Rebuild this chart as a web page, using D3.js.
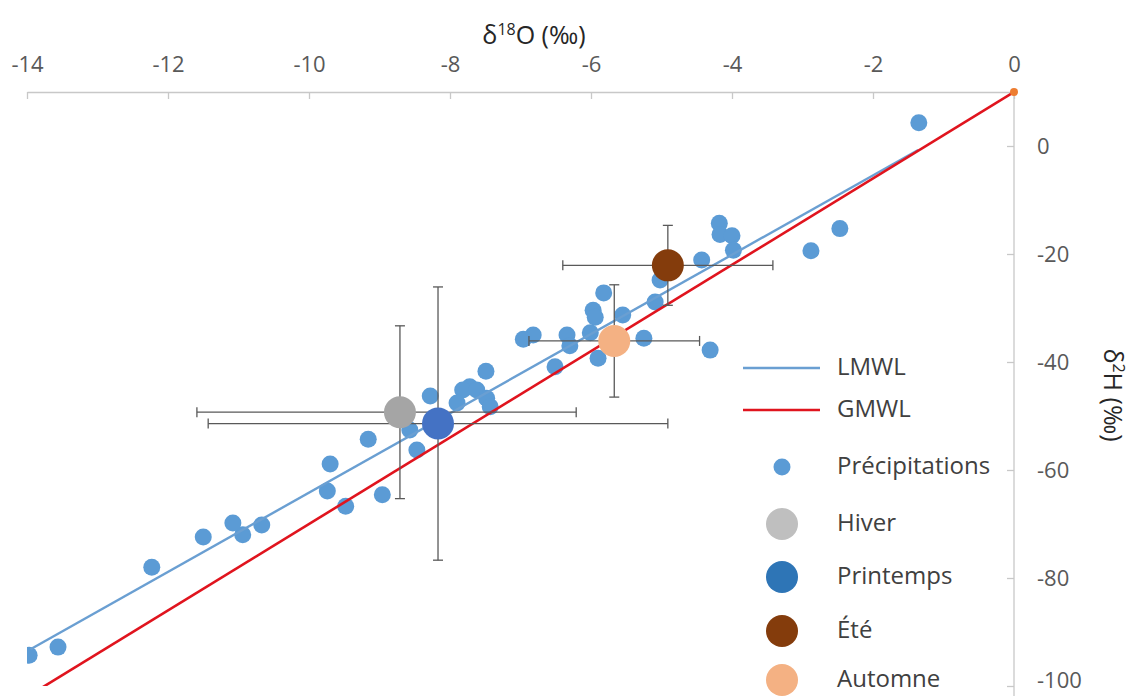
<!DOCTYPE html>
<html><head><meta charset="utf-8">
<script src="https://cdn.jsdelivr.net/npm/d3@7"></script>
<style>body{margin:0;background:#fff;} svg{display:block;font-family:"Open Sans",sans-serif;}</style>
</head><body><svg id="c" width="1131" height="696"></svg>
<script>
// ---- data ----
const xTickValues = [-14, -12, -10, -8, -6, -4, -2, 0];
const yTickValues = [0, -20, -40, -60, -80, -100];

const precipX = [-1.35, -2.47, -2.88, -4.18, -4.17, -4.00, -3.98, -4.43, -4.31, -5.02, -5.09, -5.55,
  -5.82, -5.97, -5.94, -6.01, -6.34, -6.30, -6.82, -6.96, -6.51, -5.90, -5.25, -7.49, -8.28, -7.72,
  -7.82, -7.62, -7.90, -7.48, -7.43, -8.57, -8.47, -9.16, -9.70, -9.74, -9.48, -8.96, -10.67, -10.94,
  -11.08, -11.50, -12.23, -13.97, -13.56];
const precipY = [4.3, -15.3, -19.4, -14.3, -16.4, -16.6, -19.3, -21.1, -37.8, -24.8, -28.9, -31.3,
  -27.2, -30.4, -31.7, -34.6, -35.0, -37.0, -35.0, -35.8, -40.9, -39.3, -35.6, -41.7, -46.3, -44.6,
  -45.2, -45.2, -47.6, -46.7, -48.3, -52.6, -56.3, -54.3, -58.9, -63.9, -66.7, -64.6, -70.2, -72.0,
  -69.8, -72.4, -78.0, -94.3, -92.8];

const seasonNames = ["Hiver", "Printemps", "Été", "Automne"];
const seasonX = [-8.71, -8.17, -4.91, -5.67];
const seasonY = [-49.3, -51.4, -22.1, -36.1];
const seasonXErrMinus = [2.88, 3.26, 1.49, 1.21];
const seasonXErrPlus = [2.5, 3.26, 1.49, 1.21];
const seasonYErr = [16.0, 25.3, 7.4, 10.4];

const lmwlX = [-13.95, -1.36];
const lmwlY = [-93.2, -0.75];
const gmwlX = [-14, 0];
const gmwlY = [-102, 10];

// ---- styles ----
const cPrecip = "#5b9bd5";
const seasonFill = ["#a5a5a5", "#4472c4", "#843c0c", "#f4b183"];
const seasonLegendFill = ["#bfbfbf", "#2e75b6", "#843c0c", "#f4b183"];
const cLMWL = "#6a9fd2", cGMWL = "#e0141e";

const svg = d3.select("#c");
const x = d3.scaleLinear().domain([-14, 0]).range([27, 1014]);
const y = d3.scaleLinear().domain([-100, 10]).range([686, 92]);

svg.append("defs").append("clipPath").attr("id", "plot")
  .append("rect").attr("x", 27).attr("y", 92).attr("width", 987).attr("height", 594);

// x axis (top, crossing at y=10)
const xAxis = svg.append("g").attr("transform", `translate(0,${y(10)})`)
  .call(d3.axisTop(x).tickValues(xTickValues).tickSizeInner(-7).tickSizeOuter(0).tickPadding(20).tickFormat(d3.format("d")));
xAxis.select(".domain").attr("stroke", "#c8c8c8").attr("stroke-width", 1.3);
xAxis.selectAll(".tick line").attr("stroke", "#c8c8c8").attr("stroke-width", 1.3);
xAxis.selectAll(".tick text").attr("fill", "#595959").attr("font-size", 22).attr("font-family", "Open Sans")
  .text(d => String(d));

// y axis (right, crossing at x=0)
const yAxis = svg.append("g").attr("transform", `translate(${x(0)},0)`)
  .call(d3.axisRight(y).tickValues(yTickValues).tickSizeInner(-7).tickSizeOuter(0).tickPadding(23));
yAxis.select(".domain").remove();
yAxis.append("line").attr("x1", 0).attr("x2", 0).attr("y1", y(10)).attr("y2", 696)
  .attr("stroke", "#c8c8c8").attr("stroke-width", 1.3);
yAxis.selectAll(".tick line").attr("stroke", "#c8c8c8").attr("stroke-width", 1.3);
yAxis.selectAll(".tick text").attr("fill", "#595959").attr("font-size", 22).attr("font-family", "Open Sans")
  .text(d => String(d))
  .attr("dy", d => d === -100 ? "0.08em" : "0.32em");

// titles
const xt = svg.append("text").attr("x", 534).attr("y", 44).attr("text-anchor", "middle")
  .attr("font-size", 25).attr("fill", "#262626");
xt.append("tspan").text("δ");
xt.append("tspan").attr("font-size", 16).attr("dy", -9).text("18");
xt.append("tspan").attr("dy", 9).text("O (‰)");

const yt = svg.append("text").attr("transform", "translate(1104,395) rotate(90)")
  .attr("text-anchor", "middle").attr("font-size", 25).attr("fill", "#262626");
yt.append("tspan").text("δ");
yt.append("tspan").attr("font-size", 16).attr("dy", -9).text("2");
yt.append("tspan").attr("dy", 9).text("H (‰)");

// precipitation points
const plot = svg.append("g").attr("clip-path", "url(#plot)");
plot.selectAll("circle.p").data(precipX.map((d, i) => [d, precipY[i]])).join("circle")
  .attr("class", "p").attr("cx", d => x(d[0])).attr("cy", d => y(d[1])).attr("r", 8.5)
  .attr("fill", cPrecip);

// lines
const line = d3.line().x(d => x(d[0])).y(d => y(d[1]));
plot.append("path").datum(lmwlX.map((d, i) => [d, lmwlY[i]])).attr("d", line)
  .attr("stroke", cLMWL).attr("stroke-width", 2.4).attr("fill", "none");
plot.append("path").datum(gmwlX.map((d, i) => [d, gmwlY[i]])).attr("d", line)
  .attr("stroke", cGMWL).attr("stroke-width", 2.6).attr("fill", "none");
svg.append("circle").attr("cx", x(gmwlX[1])).attr("cy", y(gmwlY[1])).attr("r", 4).attr("fill", "#ed7d31");

// error bars
const eb = svg.append("g").attr("stroke", "#595959").attr("stroke-width", 1.3);
const cap = 5;
seasonNames.forEach((n, i) => {
  const cx = x(seasonX[i]), cy = y(seasonY[i]);
  const x0 = x(seasonX[i] - seasonXErrMinus[i]), x1 = x(seasonX[i] + seasonXErrPlus[i]);
  const y0 = y(seasonY[i] + seasonYErr[i]), y1 = y(seasonY[i] - seasonYErr[i]);
  eb.append("line").attr("x1", x0).attr("x2", x1).attr("y1", cy).attr("y2", cy);
  eb.append("line").attr("x1", x0).attr("x2", x0).attr("y1", cy - cap).attr("y2", cy + cap);
  eb.append("line").attr("x1", x1).attr("x2", x1).attr("y1", cy - cap).attr("y2", cy + cap);
  eb.append("line").attr("x1", cx).attr("x2", cx).attr("y1", y0).attr("y2", y1);
  eb.append("line").attr("x1", cx - cap).attr("x2", cx + cap).attr("y1", y0).attr("y2", y0);
  eb.append("line").attr("x1", cx - cap).attr("x2", cx + cap).attr("y1", y1).attr("y2", y1);
});
svg.append("g").selectAll("circle").data(seasonNames).join("circle")
  .attr("cx", (d, i) => x(seasonX[i])).attr("cy", (d, i) => y(seasonY[i])).attr("r", 16)
  .attr("fill", (d, i) => seasonFill[i]);

// legend
const legendItems = [
  { name: "LMWL", kind: "line", color: cLMWL, ry: 368 },
  { name: "GMWL", kind: "line", color: cGMWL, ry: 410 },
  { name: "Précipitations", kind: "dot", r: 8.5, color: cPrecip, ry: 467 },
  ...seasonNames.map((n, i) => ({ name: n, kind: "dot", r: 16, color: seasonLegendFill[i], ry: [524, 577, 631, 680][i] }))
];
const lg = svg.append("g");
legendItems.forEach(it => {
  if (it.kind === "line") {
    lg.append("line").attr("x1", 743).attr("x2", 820).attr("y1", it.ry).attr("y2", it.ry)
      .attr("stroke", it.color).attr("stroke-width", 2.4);
  } else {
    lg.append("circle").attr("cx", 782).attr("cy", it.ry).attr("r", it.r).attr("fill", it.color);
  }
  lg.append("text").attr("x", 837).attr("y", it.ry).attr("dy", "0.3em").attr("font-size", 24)
    .attr("fill", "#404040").text(it.name);
});
</script></body></html>
